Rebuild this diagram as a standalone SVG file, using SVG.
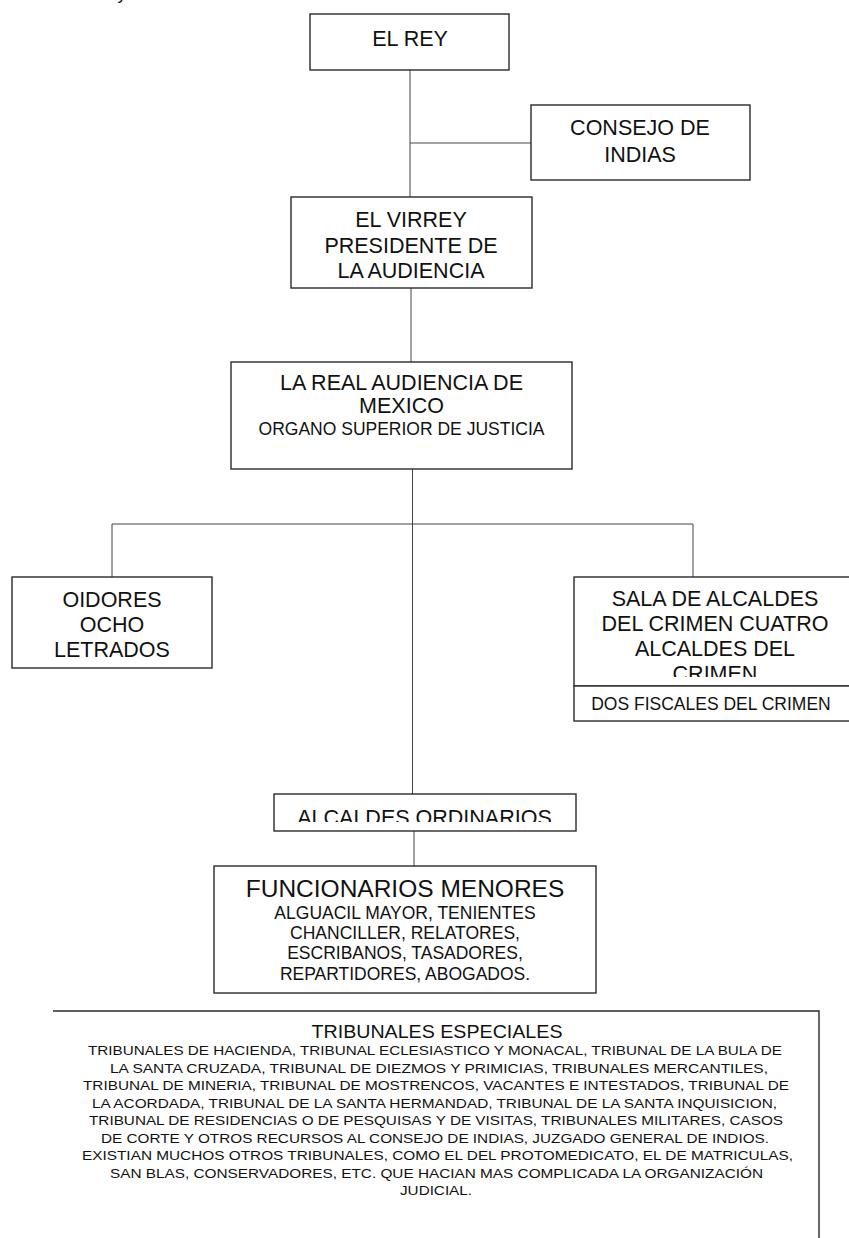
<svg xmlns="http://www.w3.org/2000/svg" width="849" height="1238" viewBox="0 0 849 1238">
<style>
.box{fill:#fff;stroke:#2a2a2a;stroke-width:1.4}
.ln{fill:none;stroke:#444;stroke-width:1}
text{font-family:"Liberation Sans",Arial,sans-serif;fill:#111;text-anchor:middle}
.t22{font-size:21.5px}
.t17{font-size:17.5px}
.t24{font-size:24.5px}
.t13{font-size:13.5px}
</style>
<defs>
<clipPath id="clipSala"><rect x="574" y="577" width="275" height="100"/></clipPath>
<clipPath id="clipAlc"><rect x="274" y="794" width="302" height="28"/></clipPath>
</defs>
<rect width="849" height="1238" fill="#fff"/>
<text x="122" y="-1" style="font-size:18px">y</text>
<g id="connectors">
<path class="ln" d="M410 70V197"/>
<path class="ln" d="M410 143H531"/>
<path class="ln" d="M411 288V362"/>
<path class="ln" d="M412.5 469V794"/>
<path class="ln" d="M112 577V524H693V577"/>
<path class="ln" d="M414 831V866"/>
</g>
<g id="el-rey">
<rect class="box" x="310" y="14" width="199" height="56"/>
<text class="t22" x="410" y="46">EL REY</text>
</g>
<g id="consejo">
<rect class="box" x="531" y="105" width="219" height="75"/>
<text class="t22" x="640" y="135">CONSEJO DE</text>
<text class="t22" x="640" y="162">INDIAS</text>
</g>
<g id="virrey">
<rect class="box" x="291" y="197" width="241" height="91"/>
<text class="t22" x="411" y="227">EL VIRREY</text>
<text class="t22" x="411" y="253">PRESIDENTE DE</text>
<text class="t22" x="411" y="278">LA AUDIENCIA</text>
</g>
<g id="real-audiencia">
<rect class="box" x="231" y="362" width="341" height="107"/>
<text class="t22" x="401.5" y="390">LA REAL AUDIENCIA DE</text>
<text class="t22" x="401.5" y="413">MEXICO</text>
<text class="t17" x="401.5" y="435">ORGANO SUPERIOR DE JUSTICIA</text>
</g>
<g id="oidores">
<rect class="box" x="12" y="577" width="200" height="91"/>
<text class="t22" x="112" y="607">OIDORES</text>
<text class="t22" x="112" y="632">OCHO</text>
<text class="t22" x="112" y="657">LETRADOS</text>
</g>
<g id="sala">
<rect class="box" x="574" y="577" width="280" height="109"/>
<g clip-path="url(#clipSala)">
<text class="t22" x="715" y="606">SALA DE ALCALDES</text>
<text class="t22" x="715" y="631">DEL CRIMEN CUATRO</text>
<text class="t22" x="715" y="656">ALCALDES DEL</text>
<text class="t22" x="715" y="681">CRIMEN</text>
</g>
</g>
<g id="fiscales">
<rect class="box" x="574" y="686" width="280" height="35"/>
<text class="t17" x="711" y="710">DOS FISCALES DEL CRIMEN</text>
</g>
<g id="alcaldes-ordinarios">
<rect class="box" x="274" y="794" width="302" height="37"/>
<text class="t22" x="424.5" y="825" clip-path="url(#clipAlc)">ALCALDES ORDINARIOS</text>
</g>
<g id="funcionarios">
<rect class="box" x="214" y="866" width="382" height="127"/>
<text class="t24" x="405" y="897">FUNCIONARIOS MENORES</text>
<text class="t17" x="405" y="919">ALGUACIL MAYOR, TENIENTES</text>
<text class="t17" x="405" y="939">CHANCILLER, RELATORES,</text>
<text class="t17" x="405" y="959">ESCRIBANOS, TASADORES,</text>
<text class="t17" x="405" y="980">REPARTIDORES, ABOGADOS.</text>
</g>
<g id="tribunales">
<path class="box" d="M53 1011H819V1240"/>
<text x="437" y="1038" style="font-size:19px" textLength="251" lengthAdjust="spacingAndGlyphs">TRIBUNALES ESPECIALES</text>
<text class="t13" x="435" y="1055" textLength="694" lengthAdjust="spacingAndGlyphs">TRIBUNALES DE HACIENDA, TRIBUNAL ECLESIASTICO Y MONACAL, TRIBUNAL DE LA BULA DE</text>
<text class="t13" x="439" y="1072.5" textLength="658" lengthAdjust="spacingAndGlyphs">LA SANTA CRUZADA, TRIBUNAL DE DIEZMOS Y PRIMICIAS, TRIBUNALES MERCANTILES,</text>
<text class="t13" x="436" y="1090" textLength="706" lengthAdjust="spacingAndGlyphs">TRIBUNAL DE MINERIA, TRIBUNAL DE MOSTRENCOS, VACANTES E INTESTADOS, TRIBUNAL DE</text>
<text class="t13" x="434.5" y="1107.5" textLength="685" lengthAdjust="spacingAndGlyphs">LA ACORDADA, TRIBUNAL DE LA SANTA HERMANDAD, TRIBUNAL DE LA SANTA INQUISICION,</text>
<text class="t13" x="436" y="1125" textLength="694" lengthAdjust="spacingAndGlyphs">TRIBUNAL DE RESIDENCIAS O DE PESQUISAS Y DE VISITAS, TRIBUNALES MILITARES, CASOS</text>
<text class="t13" x="435" y="1142.5" textLength="668" lengthAdjust="spacingAndGlyphs">DE CORTE Y OTROS RECURSOS AL CONSEJO DE INDIAS, JUZGADO GENERAL DE INDIOS.</text>
<text class="t13" x="437.5" y="1160" textLength="711" lengthAdjust="spacingAndGlyphs">EXISTIAN MUCHOS OTROS TRIBUNALES, COMO EL DEL PROTOMEDICATO, EL DE MATRICULAS,</text>
<text class="t13" x="436.5" y="1177.5" textLength="653" lengthAdjust="spacingAndGlyphs">SAN BLAS, CONSERVADORES, ETC. QUE HACIAN MAS COMPLICADA LA ORGANIZACIÓN</text>
<text class="t13" x="436" y="1195" textLength="72" lengthAdjust="spacingAndGlyphs">JUDICIAL.</text>
</g>
</svg>
